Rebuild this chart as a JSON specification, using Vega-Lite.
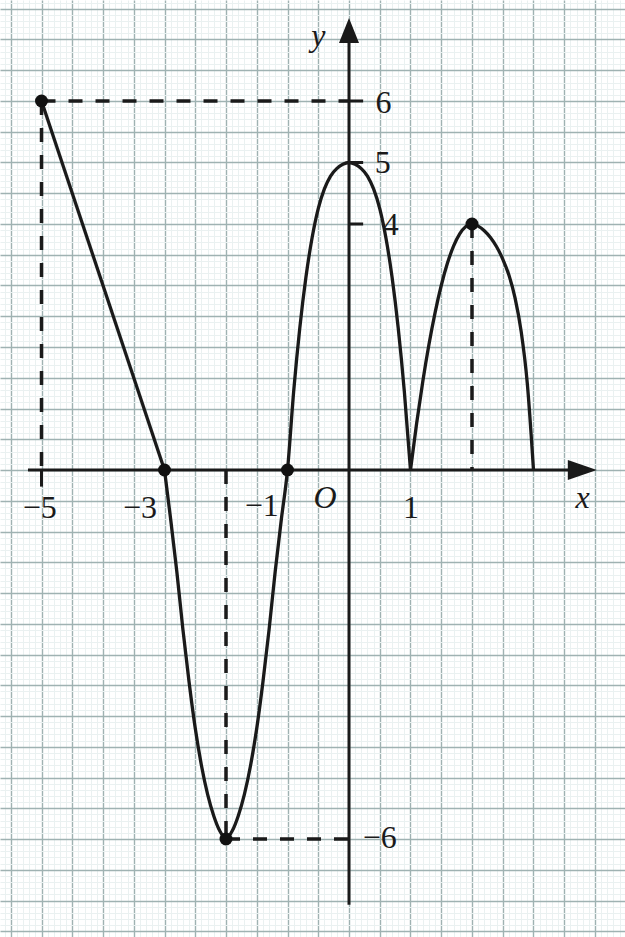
{
  "$schema": "https://vega.github.io/schema/vega-lite/v6.json",
  "width": 625,
  "height": 937,
  "autosize": {"type": "none"},
  "padding": 0,
  "background": "white",
  "config": {"view": {"stroke": null}},
  "datasets": {
    "dashed": [
      {"x": -5, "y": 6, "x2": 0, "y2": 6},
      {"x": -5, "y": 6, "x2": -5, "y2": 0},
      {"x": -2, "y": 0, "x2": -2, "y2": -6},
      {"x": -2, "y": -6, "x2": 0, "y2": -6},
      {"x": 2, "y": 4, "x2": 2, "y2": 0}
    ],
    "axes": [
      {"x": -5.22, "y": 0, "x2": 3.7, "y2": 0},
      {"x": 0, "y": -7.07, "x2": 0, "y2": 7.0}
    ],
    "ticks": [
      {"x": 0, "y": 6, "x2": 0.23, "y2": 6},
      {"x": 0, "y": 5, "x2": 0.23, "y2": 5},
      {"x": 0, "y": 4, "x2": 0.23, "y2": 4},
      {"x": -5, "y": 0, "x2": -5, "y2": -0.27}
    ],
    "curve": [
      {"seg": "a", "x": -5, "y": 6},
      {"seg": "a", "x": -3, "y": 0},
      {"seg": "b", "x": -3, "y": 0},
      {"seg": "b", "x": -2.9, "y": -0.8},
      {"seg": "b", "x": -2.8, "y": -1.65},
      {"seg": "b", "x": -2.7, "y": -2.6},
      {"seg": "b", "x": -2.6, "y": -3.45},
      {"seg": "b", "x": -2.5, "y": -4.2},
      {"seg": "b", "x": -2.4, "y": -4.8},
      {"seg": "b", "x": -2.3, "y": -5.27},
      {"seg": "b", "x": -2.2, "y": -5.62},
      {"seg": "b", "x": -2.1, "y": -5.87},
      {"seg": "b", "x": -2, "y": -6},
      {"seg": "b", "x": -1.9, "y": -5.87},
      {"seg": "b", "x": -1.8, "y": -5.62},
      {"seg": "b", "x": -1.7, "y": -5.27},
      {"seg": "b", "x": -1.6, "y": -4.8},
      {"seg": "b", "x": -1.5, "y": -4.2},
      {"seg": "b", "x": -1.4, "y": -3.45},
      {"seg": "b", "x": -1.3, "y": -2.6},
      {"seg": "b", "x": -1.2, "y": -1.65},
      {"seg": "b", "x": -1.1, "y": -0.8},
      {"seg": "b", "x": -1, "y": 0},
      {"seg": "b", "x": -0.9, "y": 1.274},
      {"seg": "b", "x": -0.8, "y": 2.312},
      {"seg": "b", "x": -0.7, "y": 3.138},
      {"seg": "b", "x": -0.6, "y": 3.776},
      {"seg": "b", "x": -0.5, "y": 4.25},
      {"seg": "b", "x": -0.4, "y": 4.57},
      {"seg": "b", "x": -0.3, "y": 4.78},
      {"seg": "b", "x": -0.2, "y": 4.9},
      {"seg": "b", "x": -0.1, "y": 4.972},
      {"seg": "b", "x": 0, "y": 5},
      {"seg": "b", "x": 0.1, "y": 4.972},
      {"seg": "b", "x": 0.2, "y": 4.9},
      {"seg": "b", "x": 0.3, "y": 4.78},
      {"seg": "b", "x": 0.4, "y": 4.57},
      {"seg": "b", "x": 0.5, "y": 4.25},
      {"seg": "b", "x": 0.6, "y": 3.776},
      {"seg": "b", "x": 0.7, "y": 3.138},
      {"seg": "b", "x": 0.8, "y": 2.312},
      {"seg": "b", "x": 0.9, "y": 1.274},
      {"seg": "b", "x": 1, "y": 0},
      {"seg": "c", "x": 1, "y": 0},
      {"seg": "c", "x": 1.1, "y": 0.76},
      {"seg": "c", "x": 1.2, "y": 1.44},
      {"seg": "c", "x": 1.3, "y": 2.04},
      {"seg": "c", "x": 1.4, "y": 2.56},
      {"seg": "c", "x": 1.5, "y": 3.0},
      {"seg": "c", "x": 1.6, "y": 3.36},
      {"seg": "c", "x": 1.7, "y": 3.64},
      {"seg": "c", "x": 1.8, "y": 3.84},
      {"seg": "c", "x": 1.9, "y": 3.96},
      {"seg": "c", "x": 2, "y": 4},
      {"seg": "c", "x": 2.1, "y": 3.965},
      {"seg": "c", "x": 2.2, "y": 3.89},
      {"seg": "c", "x": 2.3, "y": 3.78},
      {"seg": "c", "x": 2.4, "y": 3.63},
      {"seg": "c", "x": 2.5, "y": 3.43},
      {"seg": "c", "x": 2.6, "y": 3.17},
      {"seg": "c", "x": 2.7, "y": 2.8},
      {"seg": "c", "x": 2.8, "y": 2.25},
      {"seg": "c", "x": 2.9, "y": 1.4},
      {"seg": "c", "x": 3, "y": 0}
    ],
    "points": [
      {"x": -5, "y": 6},
      {"x": -3, "y": 0},
      {"x": -1, "y": 0},
      {"x": -2, "y": -6},
      {"x": 2, "y": 4}
    ],
    "arrows": [
      {"dir": "right", "x": 4.03, "y": 0},
      {"dir": "up", "x": 0, "y": 7.35}
    ],
    "labels": [
      {"text": "−5", "x": -5.03, "y": -0.61},
      {"text": "−3", "x": -3.4, "y": -0.61},
      {"text": "−1", "x": -1.42, "y": -0.58},
      {"text": "1", "x": 1.01, "y": -0.62},
      {"text": "6", "x": 0.56, "y": 5.97},
      {"text": "5", "x": 0.55, "y": 4.99},
      {"text": "4", "x": 0.68, "y": 3.98},
      {"text": "−6", "x": 0.5, "y": -5.99}
    ],
    "italicLabels": [
      {"text": "O", "x": -0.39, "y": -0.45},
      {"text": "x", "x": 3.8, "y": -0.45},
      {"text": "y", "x": -0.5, "y": 7.05}
    ]
  },
  "layer": [
    {
      "data": {"name": "dashed"},
      "mark": {"type": "rule", "strokeDash": [14, 13], "strokeWidth": 3.5, "color": "#1a1a1a"},
      "encoding": {
        "x": {
          "field": "x", "type": "quantitative",
          "scale": {"domain": [-5.675, 4.488], "nice": false, "zero": false},
          "axis": {
            "values": [-5.6,-5.5,-5.4,-5.3,-5.2,-5.1,-5,-4.9,-4.8,-4.7,-4.6,-4.5,-4.4,-4.3,-4.2,-4.1,-4,-3.9,-3.8,-3.7,-3.6,-3.5,-3.4,-3.3,-3.2,-3.1,-3,-2.9,-2.8,-2.7,-2.6,-2.5,-2.4,-2.3,-2.2,-2.1,-2,-1.9,-1.8,-1.7,-1.6,-1.5,-1.4,-1.3,-1.2,-1.1,-1,-0.9,-0.8,-0.7,-0.6,-0.5,-0.4,-0.3,-0.2,-0.1,0,0.1,0.2,0.3,0.4,0.5,0.6,0.7,0.8,0.9,1,1.1,1.2,1.3,1.4,1.5,1.6,1.7,1.8,1.9,2,2.1,2.2,2.3,2.4,2.5,2.6,2.7,2.8,2.9,3,3.1,3.2,3.3,3.4,3.5,3.6,3.7,3.8,3.9,4,4.1,4.2,4.3,4.4],
            "tickCount": 1000,
            "grid": true,
            "gridColor": {"condition": {"test": "abs(round(datum.value*10)) % 5 === 0", "value": "#9fb2b2"}, "value": "#eaf1f1"},
            "gridWidth": {"condition": {"test": "abs(round(datum.value*10)) % 5 === 0", "value": 1.4}, "value": 1},
            "domain": false, "ticks": false, "labels": false, "title": null
          }
        },
        "y": {
          "field": "y", "type": "quantitative",
          "scale": {"domain": [-7.593, 7.642], "nice": false, "zero": false},
          "axis": {
            "values": [-7.5,-7.4,-7.3,-7.2,-7.1,-7,-6.9,-6.8,-6.7,-6.6,-6.5,-6.4,-6.3,-6.2,-6.1,-6,-5.9,-5.8,-5.7,-5.6,-5.5,-5.4,-5.3,-5.2,-5.1,-5,-4.9,-4.8,-4.7,-4.6,-4.5,-4.4,-4.3,-4.2,-4.1,-4,-3.9,-3.8,-3.7,-3.6,-3.5,-3.4,-3.3,-3.2,-3.1,-3,-2.9,-2.8,-2.7,-2.6,-2.5,-2.4,-2.3,-2.2,-2.1,-2,-1.9,-1.8,-1.7,-1.6,-1.5,-1.4,-1.3,-1.2,-1.1,-1,-0.9,-0.8,-0.7,-0.6,-0.5,-0.4,-0.3,-0.2,-0.1,0,0.1,0.2,0.3,0.4,0.5,0.6,0.7,0.8,0.9,1,1.1,1.2,1.3,1.4,1.5,1.6,1.7,1.8,1.9,2,2.1,2.2,2.3,2.4,2.5,2.6,2.7,2.8,2.9,3,3.1,3.2,3.3,3.4,3.5,3.6,3.7,3.8,3.9,4,4.1,4.2,4.3,4.4,4.5,4.6,4.7,4.8,4.9,5,5.1,5.2,5.3,5.4,5.5,5.6,5.7,5.8,5.9,6,6.1,6.2,6.3,6.4,6.5,6.6,6.7,6.8,6.9,7,7.1,7.2,7.3,7.4,7.5,7.6],
            "tickCount": 1000,
            "grid": true,
            "gridColor": {"condition": {"test": "abs(round(datum.value*10)) % 5 === 0", "value": "#9fb2b2"}, "value": "#eaf1f1"},
            "gridWidth": {"condition": {"test": "abs(round(datum.value*10)) % 5 === 0", "value": 1.4}, "value": 1},
            "domain": false, "ticks": false, "labels": false, "title": null
          }
        },
        "x2": {"field": "x2"},
        "y2": {"field": "y2"}
      }
    },
    {
      "data": {"name": "axes"},
      "mark": {"type": "rule", "strokeWidth": 3, "color": "#1a1a1a"},
      "encoding": {
        "x": {"field": "x", "type": "quantitative"},
        "y": {"field": "y", "type": "quantitative"},
        "x2": {"field": "x2"},
        "y2": {"field": "y2"}
      }
    },
    {
      "data": {"name": "ticks"},
      "mark": {"type": "rule", "strokeWidth": 3, "color": "#1a1a1a"},
      "encoding": {
        "x": {"field": "x", "type": "quantitative"},
        "y": {"field": "y", "type": "quantitative"},
        "x2": {"field": "x2"},
        "y2": {"field": "y2"}
      }
    },
    {
      "data": {"name": "curve"},
      "mark": {"type": "line", "interpolate": "monotone", "strokeWidth": 3.3, "color": "#1a1a1a"},
      "encoding": {
        "x": {"field": "x", "type": "quantitative"},
        "y": {"field": "y", "type": "quantitative"},
        "detail": {"field": "seg", "type": "nominal"}
      }
    },
    {
      "data": {"name": "points"},
      "mark": {"type": "point", "shape": "circle", "filled": true, "size": 169, "color": "#111111", "opacity": 1},
      "encoding": {
        "x": {"field": "x", "type": "quantitative"},
        "y": {"field": "y", "type": "quantitative"}
      }
    },
    {
      "data": {"name": "arrows"},
      "mark": {"type": "point", "filled": true, "size": 841, "color": "#1a1a1a", "opacity": 1},
      "encoding": {
        "x": {"field": "x", "type": "quantitative"},
        "y": {"field": "y", "type": "quantitative"},
        "shape": {
          "field": "dir", "type": "nominal",
          "scale": {"domain": ["right", "up"], "range": ["M0,0L-2,-0.69L-2,0.69Z", "M0,0L-0.69,1.72L0.69,1.72Z"]},
          "legend": null
        }
      }
    },
    {
      "data": {"name": "labels"},
      "mark": {"type": "text", "font": "Liberation Serif", "fontSize": 32, "align": "center", "baseline": "middle", "color": "#1a1a1a"},
      "encoding": {
        "x": {"field": "x", "type": "quantitative"},
        "y": {"field": "y", "type": "quantitative"},
        "text": {"field": "text", "type": "nominal"}
      }
    },
    {
      "data": {"name": "italicLabels"},
      "mark": {"type": "text", "font": "Liberation Serif", "fontStyle": "italic", "fontSize": 32, "align": "center", "baseline": "middle", "color": "#1a1a1a"},
      "encoding": {
        "x": {"field": "x", "type": "quantitative"},
        "y": {"field": "y", "type": "quantitative"},
        "text": {"field": "text", "type": "nominal"}
      }
    }
  ]
}
